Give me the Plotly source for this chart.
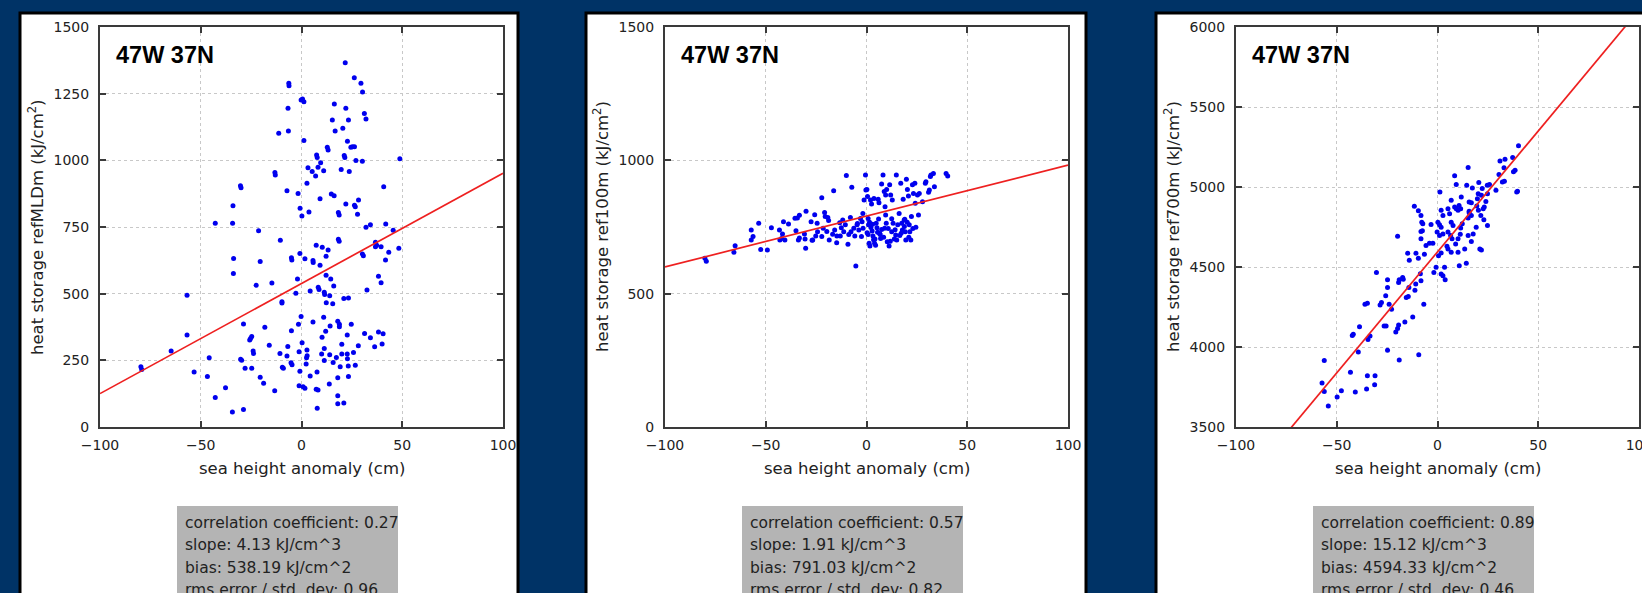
import plotly.graph_objects as go

W, H = 1642, 593

# ---------------- data ----------------
location = "47W 37N"
x_title = "sea height anomaly (cm)"
y_titles = ["heat storage refMLDm (kJ/cm<sup>2</sup>)",
            "heat storage ref100m (kJ/cm<sup>2</sup>)",
            "heat storage ref700m (kJ/cm<sup>2</sup>)"]
y_ranges = [[0, 1500], [0, 1500], [3500, 6000]]
y_dticks = [250, 500, 500]
x_range = [-100, 100]

corr = [0.27, 0.57, 0.89]
slope = [4.13, 1.91, 15.12]
bias = [538.19, 791.03, 4594.33]
rms_std = [0.96, 0.82, 0.46]

p1_x = [21.7, 26.2, 29.5, 30.3, -6.3, -6.2, -0.2, 1.2, 0.5, -6.7, 16.3, 22, 31.2, 32, 15.3, 23.3, 16.7, 20.5,
        -11.3, -6.5, 1.2, 22.8, 24.5, 25.3, 26.3, 12.8, 13.2, 7.5, 7.8, 21.2, 21.5, 27, 30.2, 9.5, 3.2, 8.2,
        5.3, 7, 11, 19.7, 23.7, -13.2, -13, 2.7, -30.3, -30, -7.2, -1.7, 14.8, 16.2, 9.2, 22, 26.3, 26.7,
        28.3, 40.8, -34, -0.7, 3.7, 18.3, 18.7, 0.2, 27.8, -42.8, -34.2, -21.3, 32, 34.2, 41.8, 18.3, 48.8,
        48.3, 45.5,
        -10.5, 7.3, 10.3, 13.2, 18.7, -0.8, 1.7, 5.7, 5.8, 12.2, 9.2, -5, -4.8, -20.5, -33.7, -33.8, -22.5,
        -14.7, -2, 12.2, 14.5, 16, 8.3, 8.7, 4.3, 11.3, 11.5, 14, -2.8, 12.3, 15.5, 21, 23.3, 30.2, 30.7,
        36.7, 37.3, 36.7, 39.5, 43.3, 41.7, 38.2, 39.5, 32.5, -56.8, -9.7, -9.7, -56.8, -64.7, -79.7, -79.3,
        -53.3, -45.8, -46.7, -42.8, -37.7, -34.3, -28.8, -28.8, -30.2, -29.7, -28, -24.7, -25.3, -24.7,
        -25.7, -24, -23.8, -20.5, -18.8, -18.2, -16, -13.3, -10.7, -9.5, -9, -7.2, -6.8, -5, -5.2, -4.7,
        -1.5, -0.2, 0.3, -1.2, -0.8, -1.2, 0.8, 1.7, 2.7, 2.8, 2.5, 2.3, 4.3, 5.7, 7.7, 7.3, 8.2, 7.8, 10.2,
        10, 11.3, 11, 12, 11.3, 14, 14.2, 13.8, 15.7, 17.3, 18, 18.8, 18.8, 18, 18, 18, 21, 19.2, 20, 20,
        22.7, 22.8, 23.2, 22.7, 23.3, 24.7, 25.8, 26.7, 28.2, 31.3, 34.2, 36.3, 38.2, 40.5, 40]
p1_y = [1366, 1310, 1289, 1256, 1289, 1280, 1226, 1220, 1230, 1195, 1211, 1195, 1176, 1155, 1151, 1151, 1110,
        1120, 1102, 1110, 1074, 1072, 1049, 1051, 1051, 1049, 1039, 1020, 1011, 1018, 1011, 999, 997, 991,
        972, 974, 958, 941, 961, 966, 958, 954, 945, 914, 905, 897, 886, 876, 874, 867, 856, 836, 832, 826,
        851, 901, 830, 820, 806, 804, 795, 791, 798, 764, 764, 736, 749, 758, 761, 704, 1006, 670, 738,
        700, 682, 674, 664, 697, 651, 631, 624, 617, 640, 607, 635, 626, 621, 632, 576, 532, 540, 555, 569,
        555, 529, 524, 516, 510, 505, 497, 492, 502, 466, 462, 482, 484, 649, 642, 693, 682, 676, 676, 655,
        626, 565, 541, 514, 494, 470, 465, 345, 285, 226, 216, 206, 260, 189, 111, 147, 56, 66, 386, 254,
        250, 220, 220, 332, 339, 326, 285, 276, 187, 164, 374, 307, 136, 276, 224, 220, 266, 302, 361, 241,
        233, 385, 414, 316, 282, 209, 155, 151, 145, 289, 267, 260, 236, 191, 394, 206, 142, 139, 70, 337,
        274, 294, 412, 359, 249, 271, 379, 161, 242, 261, 397, 385, 376, 185, 117, 87, 90, 226, 310, 274,
        274, 256, 229, 345, 189, 385, 279, 232, 305, 351, 335, 301, 356, 350, 311]

p2_x = [-80.2, -79.5, -65.8, -65.2, -57.2, -56.3, -57.2, -53.5, -52.5, -49.2, -47.2, -43.2, -43, -42.2, -41.7,
        -41.2, -40.5, -38.7, -35.5, -34.3, -35, -33.3, -33.8, -33.3, -30.8, -30.5, -30.2, -30, -27.5, -26.7,
        -25.7, -25.2, -24.5, -24.3, -22.2, -22.2, -20.8, -20.5, -19.2, -18.8, -19.7, -18.5, -16.3, -15.8,
        -14.7, -14.8, -13.3, -13, -11.8, -11.3, -10.5, -10, -9.2, -8, -7.7, -7.3, -6.3, -5.8, -5.3, -4.7,
        -3.8, -3, -2.5, -1.8, -1.7, -1.2, -0.5, -0.3, 0.2, 0.5, 0.8, 1, 1.3, 1.7, 2, 2.5, 2.8, 3.2, 3.7, 4,
        4.5, 4.8, 5.2, 5.8, 6.2, 6.5, 7, 7.5, 8.2, 7.5, 8.8, 9.5, 10, 9.2, 9.5, 9.8, 10.3, 11.2, 11.5, 12,
        12.5, 13.2, 12.8, 14.5, 15, 14.8, 16.2, 17, 17.5, 17.8, 18.2, 18.7, 19.2, 19.5, 19.8, 20.3, 20.8,
        21.2, 21.5, 22, 22.3, 22.8, 23.3, 24, 24.2, 24.5, 25.3, 25.8, 26.2, 27.8, 29.2, 29.5, 30.8, 31.2,
        31.7, 33.2, 32, 33.7, 39.5, 40.3,
        0.8, 2.2, 3.5, 5.5, 8.5, 10.8, 13.8, 16.5, 18.8, 21, 1.5, 4.2, 6.8, 9, 11.8, 14.2, 17.2, 20.2, 23,
        -4.5, -8.8, -12.5, -16.8, -21.5, -27, -2.2, 0.3, 3, 6, 12.5, 15.5, 19]
p2_y = [633, 622, 655, 680, 701, 714, 739, 764, 666, 664, 747, 739, 701, 707, 724, 770, 701, 761, 783, 784,
        736, 794, 701, 709, 724, 705, 670, 809, 770, 701, 796, 716, 764, 732, 860, 714, 804, 789, 786, 774,
        733, 701, 886, 739, 716, 691, 766, 716, 776, 732, 758, 943, 685, 786, 732, 899, 745, 716, 604, 758,
        739, 782, 714, 801, 745, 851, 945, 889, 891, 864, 782, 758, 689, 679, 851, 836, 735, 716, 857, 689,
        682, 764, 747, 854, 841, 726, 707, 741, 945, 911, 883, 870, 891, 826, 795, 764, 695, 679, 908, 870,
        732, 764, 851, 720, 701, 945, 801, 914, 764, 739, 854, 776, 732, 701, 929, 891, 866, 758, 732, 701,
        789, 908, 876, 914, 839, 749, 870, 795, 876, 845, 914, 920, 880, 889, 939, 951, 945, 901, 951, 941,
        722, 748, 702, 730, 712, 744, 705, 718, 752, 712, 768, 705, 722, 745, 697, 740, 727, 768, 744,
        763, 722, 747, 723, 745, 700, 770, 728, 760, 780, 781, 758, 779]

p3_x = [40.2, 31, 33.5, 37.3, 33, 30.5, 37.7, 38.5, 32.2, 33.2, 39.7, 39.3, 29, 25.8, 24.7, 20.5, 22.2, 15.2,
        8.5, 9.3, 14.5, 17.3, 1.2, 6.8, 11.8, 20.2, 21.8, 19.8, 15.7, 16.8, 24.8, 24, 22.7, 23.2, 19.5, 20.3,
        15.7, 15.7, 8.5, 9.3, 10.2, 5.2, 6, 1.8, 2.7, 10.7, 11.5, 16.8, 15.2, 21.5, 12.3, 11.5, 23, 24.8,
        19.2, 17.7, 15.2, 16.8, 6.8, 7.7, 0.2, 1, 1.8, -3.2, -0.2, 1, 2.7, 5.2, 6.5, 7.2, 10.2, 11.3, 9,
        4.7, 5.2, 6.8, 10.2, 13.5, 21, 21.8, 14.3, 10.8, 3.5, 1.8, 2.7, 3.8, -0.7, -1.8, 0.5, 1.8, -4,
        -2.3, -5.7, -8.2, -7.5, -8.2, -7.8, -7.3, -8.2, -9.5, -11.5, -19.8, -14.8, -14, -10.7, -9.5, -6.5,
        -8.5, -8.2, -10.8, -11.2, -14.2, -14.5, -15.5, -17.3, -17, -19, -19.3, -24.8, -24.8, -25.7, -27.8,
        -28.5, -30.3, -22.8, -24, -6.8, -12.3, -16.2, -19.3, -19.8, -20.7, -26.5, -25.5, -34.8, -36, -38.7,
        -41.8, -42.3, -33.5, -34.5, -39.3, -24.8, -19, -9.3, -56.2, -43.2, -34.8, -31, -31.2, -35.2, -57.3,
        -56.2, -47.7, -40.8, -49.8, -54.2]
p3_y = [5258, 5162, 5174, 5185, 5120, 5078, 5095, 5105, 5032, 5036, 4973, 4969, 4979, 5015, 5011, 5028, 4990,
        5122, 5070, 5015, 5011, 4994, 4969, 4917, 4938, 4958, 4948, 4927, 4906, 4902, 4958, 4910, 4864, 4875,
        4881, 4854, 4839, 4848, 4875, 4864, 4854, 4864, 4833, 4854, 4822, 4885, 4864, 4822, 4806, 4822, 4770,
        4743, 4795, 4760, 4749, 4707, 4697, 4659, 4780, 4760, 4780, 4764, 4749, 4766, 4718, 4697, 4707, 4718,
        4697, 4676, 4676, 4705, 4644, 4630, 4613, 4592, 4592, 4613, 4613, 4607, 4523, 4508, 4498, 4456, 4445,
        4420, 4498, 4466, 4571, 4588, 4649, 4649, 4634, 4676, 4726, 4722, 4780, 4770, 4822, 4852, 4879, 4692,
        4586, 4542, 4586, 4554, 4579, 4458, 4414, 4393, 4355, 4372, 4315, 4309, 4435, 4424, 4420, 4403, 4420,
        4372, 4320, 4278, 4263, 4466, 4236, 4267, 4267, 4188, 4156, 4137, 4116, 4093, 4131, 4131, 4274, 4267,
        4127, 4079, 4072, 4068, 4047, 3968, 3980, 3918, 3951, 3915, 3842, 3821, 3821, 3764, 3737, 3775, 3722,
        3727, 3718, 3687, 3632]

xs = [p1_x, p2_x, p3_x]
ys = [p1_y, p2_y, p3_y]

# ---------------- layout geometry (pixels) ----------------
plot_x0 = [100, 665, 1236]
PW = 403
box_x = [(20, 518), (586, 1086), (1156, 1660)]
plot_top, plot_bot = 27, 427


def fx(px):
    return px / W


def fy(py):
    return 1 - py / H


BG = "#003366"
AXC = "#3a3a3a"
TICKFONT = dict(family="DejaVu Sans", size=14, color="#222222")
TITLEFONT = dict(family="DejaVu Sans", size=16.5, color="#222222")
STATFONT = dict(family="DejaVu Sans", size=15.5, color="#222222")

fig = go.Figure()
shapes = []
annotations = []

for i in range(3):
    xa = "x" if i == 0 else f"x{i+1}"
    ya = "y" if i == 0 else f"y{i+1}"
    fig.add_trace(go.Scatter(x=xs[i], y=ys[i], mode="markers", xaxis=xa, yaxis=ya,
                             marker=dict(color="#0000ee", size=5, line=dict(width=0)),
                             showlegend=False, hoverinfo="skip"))
    lx = list(x_range)
    ly = [bias[i] + slope[i] * v for v in lx]
    fig.add_trace(go.Scatter(x=lx, y=ly, mode="lines", xaxis=xa, yaxis=ya,
                             line=dict(color="#ee2020", width=1.7),
                             showlegend=False, hoverinfo="skip"))

    axis_common = dict(showline=True, linecolor=AXC, linewidth=2, mirror="ticks",
                       ticks="inside", ticklen=6, tickwidth=2, tickcolor=AXC,
                       showgrid=True, gridcolor="#c8c8c8", griddash="dot", gridwidth=1,
                       zeroline=False, tickfont=TICKFONT, fixedrange=True, automargin=False,
                       ticklabeloverflow="allow")
    x0 = plot_x0[i]
    fig.update_layout(**{
        ("xaxis" if i == 0 else f"xaxis{i+1}"): dict(
            domain=[fx(x0), fx(x0 + PW)], anchor=ya, range=x_range, dtick=50, tick0=0,
            ticklabelstandoff=4, **axis_common),
        ("yaxis" if i == 0 else f"yaxis{i+1}"): dict(
            domain=[fy(plot_bot), fy(plot_top)], anchor=xa, range=y_ranges[i],
            dtick=y_dticks[i], tick0=0, ticklabelstandoff=6, **axis_common),
    })

    bx0, bx1 = box_x[i]
    shapes.append(dict(type="rect", xref="paper", yref="paper", layer="below",
                       x0=fx(bx0), x1=fx(bx1), y0=fy(H + 20), y1=fy(13),
                       fillcolor="white", line=dict(color="black", width=3)))
    shapes.append(dict(type="rect", xref="paper", yref="paper", layer="below",
                       x0=fx(x0 + 77), x1=fx(x0 + 298), y0=fy(H + 20), y1=fy(506),
                       fillcolor="#b4b4b4", line=dict(width=0)))

    stat_lines = [f"correlation coefficient: {corr[i]:.2f}",
                  f"slope: {slope[i]:.2f} kJ/cm^3",
                  f"bias: {bias[i]:.2f} kJ/cm^2",
                  f"rms error / std. dev: {rms_std[i]:.2f}"]
    for k, line in enumerate(stat_lines):
        annotations.append(dict(xref="paper", yref="paper", x=fx(x0 + 83), y=fy(523 + 22.3 * k),
                                xanchor="left", yanchor="middle", align="left", showarrow=False,
                                text=line, font=STATFONT))
    annotations.append(dict(xref="paper", yref="paper", x=fx(x0 + 14), y=fy(55),
                            xanchor="left", yanchor="middle", showarrow=False, text=f"<b>{location}</b>",
                            font=dict(family="Liberation Sans", size=23.5, color="black")))
    annotations.append(dict(xref="paper", yref="paper", x=fx(x0 + PW / 2), y=fy(468),
                            xanchor="center", yanchor="middle", showarrow=False, text=x_title,
                            font=TITLEFONT))
    annotations.append(dict(xref="paper", yref="paper", x=fx(x0 - 64), y=fy((plot_top + plot_bot) / 2),
                            xanchor="center", yanchor="middle", showarrow=False, text=y_titles[i],
                            textangle=-90, font=TITLEFONT))

fig.update_layout(width=W, height=H, margin=dict(l=0, r=0, t=0, b=0, autoexpand=False),
                  paper_bgcolor=BG, plot_bgcolor="white", shapes=shapes,
                  annotations=annotations, showlegend=False)

fig.write_html("out.html", config={"displayModeBar": False})
